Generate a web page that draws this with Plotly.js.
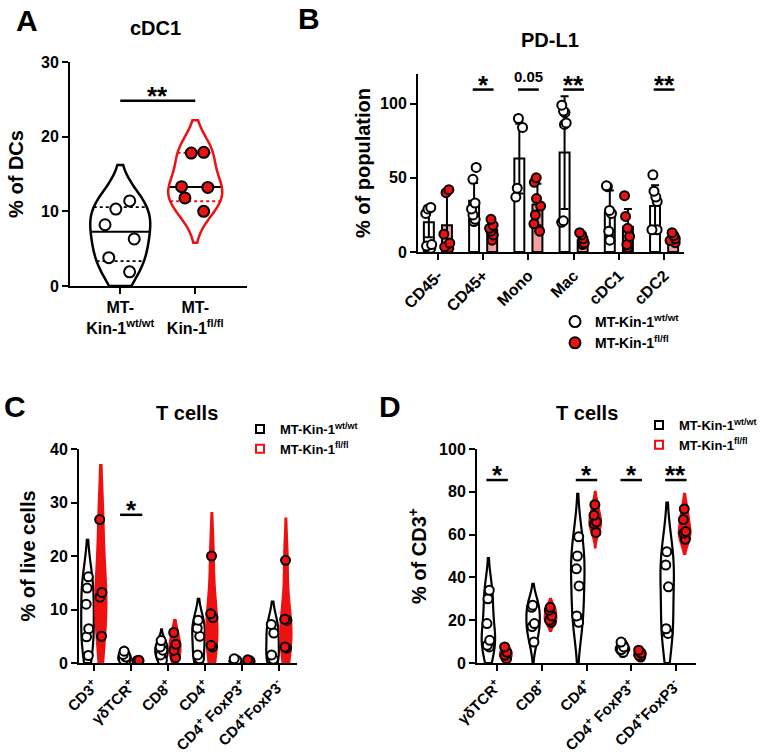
<!DOCTYPE html>
<html><head><meta charset="utf-8">
<script src="https://cdn.plot.ly/plotly-3.0.1.min.js"></script>
<style>html,body{margin:0;padding:0;background:#fff}#chart{width:765px;height:755px}</style>
</head><body><div id="chart"></div>
<script>
// ---------- Panel A : cDC1 (% of DCs) ----------
const groupsA = ['MT-<br>Kin-1<sup>wt/wt</sup>', 'MT-<br>Kin-1<sup>fl/fl</sup>'];
const aWt = [10.3, 11.4, 8.2, 6.3, 3.8, 1.9];
const aFl = [17.8, 17.9, 13.2, 13.3, 11.8, 10.0];
const aWtSpan = [0, 16.2];
const aFlSpan = [5.8, 22.2];
const sigA = '**';
const sigALevel = 24.8;

// ---------- Panel B : PD-L1 (% of population) ----------
const catsB = ['CD45-', 'CD45+', 'Mono', 'Mac', 'cDC1', 'cDC2'];
const bWtMean = [20, 34.5, 63, 67, 26.5, 31];
const bWtSD = [10, 12, 23.5, 38, 15, 14];
const bFlMean = [18, 15, 32, 8, 17, 8.5];
const bFlSD = [21, 5, 14, 3, 12, 2.5];
const bWtPts = [[30, 29, 26, 5, 4, 2.5], [57, 49, 33, 29, 25, 22, 20.5], [90, 84, 43, 37], [99, 95, 94, 87, 86, 21, 20], [44.6, 44, 28, 26, 14, 8], [52, 41, 37, 34, 15, 15]];
const bFlPts = [[42, 40, 12, 6, 3.5, 2.5], [22, 18, 16, 14, 11.5, 8], [50, 47, 36, 31, 25, 19, 14], [13, 11.5, 9, 6, 5], [38, 24, 16, 10.5, 5, 3], [13, 11, 9, 7.7, 6.3]];
const sigB = ['', '*', '0.05', '**', '', '**'];
const sigBLevel = 109.5;

// ---------- Panel C : T cells (% of live cells) ----------
const catsC = ['CD3<sup>+</sup>', 'γδTCR<sup>+</sup>', 'CD8<sup>+</sup>', 'CD4<sup>+</sup>', 'CD4<sup>+</sup> FoxP3<sup>+</sup>', 'CD4<sup>+</sup>FoxP3<sup>-</sup>'];
const cWt = [[16.1, 14, 11, 6.4, 4.9, 1.4], [2.2, 1.6, 1.1, 0.6, 0.3], [4.2, 3.0, 2.4, 1.5, 0.5], [8.0, 6.5, 5.0, 1.5, 0.8], [0.8, 0.5, 0.3, 0.2], [7.2, 5.6, 1.5, 0.7]];
const cFl = [[26.8, 13.2, 12.3, 5.0], [0.5, 0.4, 0.3], [5.7, 3.5, 2.4, 1.0], [20.0, 9.2, 8.5, 3.3, 3.0], [0.6, 0.4, 0.2, 0.1], [19.2, 8.2, 8.0, 3.0, 2.8]];
const cWtSpan = [[0, 23], [0, 3], [0, 6.3], [0, 12], [0, 1], [0, 11.5]];
const cFlSpan = [[0, 37], [0, 0.8], [0, 8], [0, 28], [0, 0.8], [0, 27]];
const sigC = ['', '*', '', '', '', ''];
const sigCLevel = 27.7;

// ---------- Panel D : T cells (% of CD3+) ----------
const catsD = ['γδTCR<sup>+</sup>', 'CD8<sup>+</sup>', 'CD4<sup>+</sup>', 'CD4<sup>+</sup> FoxP3<sup>+</sup>', 'CD4<sup>+</sup>FoxP3<sup>-</sup>'];
const dWt = [[34, 30, 18.4, 10.6, 8.3, 7.5], [27, 26, 18.4, 17, 9.8], [59, 50, 44, 36, 22, 19], [9.8, 7.5, 6.3, 5], [52, 45.8, 35.6, 16, 13.8]];
const dFl = [[7.5, 5, 3.6, 2], [26, 24.7, 22, 20, 19], [74, 69, 66, 65, 61], [6, 4.7, 3.6, 2.8], [72, 67, 61.4, 60.6, 57.8]];
const dWtSpan = [[0, 49], [0, 37], [0, 79], [3, 11], [0, 75]];
const dFlSpan = [[0, 9], [15, 30], [54, 80], [1, 7], [51, 79]];
const sigD = ['*', '', '*', '*', '**'];
const sigDLevel = 85.5;

const legendNames = ['MT-Kin-1<sup>wt/wt</sup>', 'MT-Kin-1<sup>fl/fl</sup>'];

// ---------- styling ----------
const FONT = 'Liberation Sans, Arial, sans-serif';
const RED = '#ee1111';
const W = 765, H = 755;
const px = v => v / W, py = v => 1 - v / H;

const traces = [];
const shapes = [];
const annotations = [];

function violinTrace(vals, pos, span, width, isFl, xa, ya, msize, lineCol, fillCol, jit) {
  return {
    type: 'violin', x: vals.map(() => pos), y: vals, xaxis: xa, yaxis: ya,
    spanmode: 'manual', span: span, width: width, scalemode: 'width',
    points: 'all', pointpos: 0, jitter: jit,
    line: {color: lineCol, width: 2.2}, fillcolor: fillCol,
    marker: {size: msize, color: isFl ? RED : 'white', line: {color: 'black', width: 2}},
    box: {visible: false}, meanline: {visible: false},
    showlegend: false, hoverinfo: 'skip'
  };
}

// Plotly-like KDE half width (for quartile lines in panel A)
function halfWidth(vals, span, width, yq) {
  const n = vals.length;
  const mean = vals.reduce((a, b) => a + b, 0) / n;
  const ssd = Math.sqrt(vals.reduce((a, v) => a + (v - mean) ** 2, 0) / (n - 1));
  const s = vals.slice().sort((a, b) => a - b);
  const q = p => { const h = (n - 1) * p, lo = Math.floor(h); const hi = Math.min(lo + 1, n - 1); return s[lo] + (h - lo) * (s[hi] - s[lo]); };
  const iqr = q(0.75) - q(0.25);
  const bw = 1.059 * Math.min(ssd, iqr / 1.349) * Math.pow(n, -0.2);
  const dens = y => vals.reduce((a, v) => a + Math.exp(-0.5 * ((y - v) / bw) ** 2), 0);
  let mx = 0;
  for (let i = 0; i <= 600; i++) { mx = Math.max(mx, dens(span[0] + (span[1] - span[0]) * i / 600)); }
  return width / 2 * dens(yq) / mx;
}
function gpQuantile(vals, p) {
  const s = vals.slice().sort((a, b) => a - b), n = s.length;
  const h = (n + 1) * p, lo = Math.floor(h);
  if (lo < 1) return s[0];
  if (lo >= n) return s[n - 1];
  return s[lo - 1] + (h - lo) * (s[lo] - s[lo - 1]);
}

// ---- Panel A traces
const aSets = [
  {vals: aWt, span: aWtSpan, pos: 0, width: 0.8, fl: false, col: 'black'},
  {vals: aFl, span: aFlSpan, pos: 1, width: 0.72, fl: true, col: RED}
];
aSets.forEach(st => {
  const t = violinTrace(st.vals, st.pos, st.span, st.width, st.fl, 'x', 'y', 11, st.col, 'rgba(255,255,255,0)', 0.6);
  t.line.width = 2.5;
  traces.push(t);
  [[0.25, 'dot', st.col], [0.5, 'solid', 'black'], [0.75, 'dot', st.col]].forEach(([p, dash, c]) => {
    const qv = gpQuantile(st.vals, p);
    const hw = halfWidth(st.vals, st.span, st.width, qv);
    shapes.push({type: 'line', xref: 'x', yref: 'y', x0: st.pos - hw, x1: st.pos + hw, y0: qv, y1: qv,
      line: {color: c, width: p === 0.5 ? 2 : 1.8, dash: dash}, layer: 'below'});
  });
});
shapes.push({type: 'line', xref: 'x', yref: 'y', x0: 0, x1: 1, y0: sigALevel, y1: sigALevel, line: {color: 'black', width: 2.5}});
annotations.push({xref: 'x', yref: 'y', x: 0.5, y: sigALevel, text: sigA, showarrow: false, yanchor: 'bottom', yshift: -12,
  font: {family: FONT, size: 26, weight: 'bold', color: 'black'}});

// ---- Panel B traces
const bOff = 0.2;
traces.push({type: 'bar', x: catsB.map((c, i) => i - bOff), y: bWtMean, width: 0.22, xaxis: 'x2', yaxis: 'y2',
  marker: {color: 'white', line: {color: 'black', width: 2}},
  error_y: {type: 'data', array: bWtSD, visible: true, color: 'black', thickness: 2, width: 4},
  showlegend: false, hoverinfo: 'skip'});
traces.push({type: 'bar', x: catsB.map((c, i) => i + bOff), y: bFlMean, width: 0.22, xaxis: 'x2', yaxis: 'y2',
  marker: {color: '#f5a0a0', line: {color: 'black', width: 2}},
  error_y: {type: 'data', array: bFlSD, visible: true, color: 'black', thickness: 2, width: 4},
  showlegend: false, hoverinfo: 'skip'});
[[bWtPts, -bOff, 'white'], [bFlPts, bOff, RED]].forEach(([pts, off, col]) => {
  const xs = [], ys = [];
  pts.forEach((arr, i) => arr.forEach(v => { xs.push(i + off); ys.push(v); }));
  traces.push({type: 'box', x: xs, y: ys, xaxis: 'x2', yaxis: 'y2', width: 0.2,
    boxpoints: 'all', jitter: 0.8, pointpos: 0, fillcolor: 'rgba(0,0,0,0)',
    line: {color: 'rgba(0,0,0,0)', width: 0}, whiskerwidth: 0,
    marker: {size: 9, color: col, line: {color: 'black', width: 2}},
    showlegend: false, hoverinfo: 'skip'});
});
sigB.forEach((s, i) => {
  if (!s) return;
  shapes.push({type: 'line', xref: 'x2', yref: 'y2', x0: i - 0.23, x1: i + 0.23, y0: sigBLevel, y1: sigBLevel, line: {color: 'black', width: 2.5}});
  const star = s.indexOf('*') >= 0;
  annotations.push({xref: 'x2', yref: 'y2', x: i, y: sigBLevel, text: s, showarrow: false, yanchor: 'bottom',
    yshift: star ? -12 : 3, font: {family: FONT, size: star ? 26 : 15, weight: 'bold', color: 'black'}});
});

// ---- Panel C traces
const cOff = 0.18;
catsC.forEach((c, i) => {
  traces.push(violinTrace(cWt[i], i - cOff, cWtSpan[i], 0.34, false, 'x3', 'y3', 9, 'black', 'white', 0.25));
  traces.push(violinTrace(cFl[i], i + cOff, cFlSpan[i], 0.3, true, 'x3', 'y3', 9, RED, RED, 0.25));
  if (sigC[i]) {
    shapes.push({type: 'line', xref: 'x3', yref: 'y3', x0: i - 0.3, x1: i + 0.3, y0: sigCLevel, y1: sigCLevel, line: {color: 'black', width: 2.5}});
    annotations.push({xref: 'x3', yref: 'y3', x: i, y: sigCLevel, text: sigC[i], showarrow: false, yanchor: 'bottom', yshift: -12,
      font: {family: FONT, size: 26, weight: 'bold', color: 'black'}});
  }
});

// ---- Panel D traces
const dOff = 0.195;
catsD.forEach((c, i) => {
  traces.push(violinTrace(dWt[i], i - dOff, dWtSpan[i], 0.3, false, 'x4', 'y4', 9, 'black', 'white', 0.25));
  traces.push(violinTrace(dFl[i], i + dOff, dFlSpan[i], 0.26, true, 'x4', 'y4', 9, RED, RED, 0.25));
  if (sigD[i]) {
    shapes.push({type: 'line', xref: 'x4', yref: 'y4', x0: i - 0.24, x1: i + 0.24, y0: sigDLevel, y1: sigDLevel, line: {color: 'black', width: 2.5}});
    annotations.push({xref: 'x4', yref: 'y4', x: i, y: sigDLevel, text: sigD[i], showarrow: false, yanchor: 'bottom', yshift: -12,
      font: {family: FONT, size: 26, weight: 'bold', color: 'black'}});
  }
});

// ---- legend entries
[['legend', 'x2', 'y2', 'circle', 11], ['legend2', 'x3', 'y3', 'square', 8], ['legend3', 'x4', 'y4', 'square', 8]].forEach(([lg, xa, ya, sym, sz]) => {
  legendNames.forEach((nm, k) => {
    const fl = k === 1;
    const isB = lg === 'legend';
    traces.push({type: 'scatter', mode: 'markers', x: [null], y: [null], xaxis: xa, yaxis: ya, name: nm, legend: lg,
      marker: {symbol: sym, size: sz, color: (isB && fl) ? RED : 'white', line: {color: (!isB && fl) ? RED : 'black', width: 2}},
      hoverinfo: 'skip'});
  });
});

// ---- panel letters and titles
[['A', 27, 21], ['B', 309, 18], ['C', 15, 407], ['D', 390, 406]].forEach(([t, x, y]) => {
  annotations.push({xref: 'paper', yref: 'paper', x: px(x), y: py(y), text: t, showarrow: false, xanchor: 'center', yanchor: 'middle',
    font: {family: FONT, size: 30, weight: 'bold', color: 'black'}});
});
[['cDC1', 155, 28], ['PD-L1', 550, 40], ['T cells', 187, 413], ['T cells', 587, 413]].forEach(([t, x, y]) => {
  annotations.push({xref: 'paper', yref: 'paper', x: px(x), y: py(y), text: t, showarrow: false, xanchor: 'center', yanchor: 'middle',
    font: {family: FONT, size: 20, weight: 'bold', color: 'black'}});
});

function axis(extra) {
  return Object.assign({
    showline: true, linecolor: 'black', linewidth: 2, mirror: false,
    ticks: 'outside', ticklen: 6, tickwidth: 2, tickcolor: 'black',
    showgrid: false, zeroline: false, fixedrange: true, automargin: false,
    tickfont: {family: FONT, size: 16, weight: 'bold', color: 'black'}
  }, extra);
}
const titleFont = {family: FONT, size: 20, weight: 'bold', color: 'black'};
const rotFontB = {family: FONT, size: 16, weight: 'bold', color: 'black'};
const rotFont = {family: FONT, size: 15, weight: 'bold', color: 'black'};

const layout = {
  width: W, height: H, margin: {l: 0, r: 0, t: 0, b: 0},
  paper_bgcolor: 'white', plot_bgcolor: 'rgba(0,0,0,0)',
  barmode: 'overlay', violinmode: 'overlay', boxmode: 'overlay', showlegend: true,
  font: {family: FONT, color: 'black'},
  xaxis: axis({domain: [px(70), px(247)], range: [-0.67, 1.69], anchor: 'y', tickvals: [0, 1], ticktext: groupsA, tickangle: 0}),
  yaxis: axis({domain: [py(286), py(62)], range: [0, 30], anchor: 'x', tickvals: [0, 10, 20, 30],
    title: {text: '% of DCs', font: titleFont, standoff: 12}}),
  xaxis2: axis({domain: [px(418), px(684)], range: [-0.44, 5.44], anchor: 'y2', tickvals: catsB.map((c, i) => i), ticktext: catsB,
    tickangle: -45, tickfont: rotFontB}),
  yaxis2: axis({domain: [py(252), py(74)], range: [0, 120], anchor: 'x2', tickvals: [0, 50, 100],
    title: {text: '% of population', font: titleFont, standoff: 4}}),
  xaxis3: axis({domain: [px(79), px(297)], range: [-0.41, 5.48], anchor: 'y3', tickvals: catsC.map((c, i) => i), ticktext: catsC,
    tickangle: -45, tickfont: rotFont}),
  yaxis3: axis({domain: [py(663), py(449)], range: [0, 40], anchor: 'x3', tickvals: [0, 10, 20, 30, 40],
    title: {text: '% of live cells', font: titleFont, standoff: 9}}),
  xaxis4: axis({domain: [px(477), px(696)], range: [-0.45, 4.45], anchor: 'y4', tickvals: catsD.map((c, i) => i), ticktext: catsD,
    tickangle: -45, tickfont: rotFont}),
  yaxis4: axis({domain: [py(663), py(449)], range: [0, 100], anchor: 'x4', tickvals: [0, 20, 40, 60, 80, 100],
    title: {text: '% of CD3<sup>+</sup>', font: titleFont, standoff: 7}}),
  legend: {x: px(555), y: py(306), xanchor: 'left', yanchor: 'top', bgcolor: 'rgba(0,0,0,0)', borderwidth: 0,
    font: {family: FONT, size: 14, weight: 'bold', color: 'black'}},
  legend2: {x: px(240), y: py(414), xanchor: 'left', yanchor: 'top', bgcolor: 'rgba(0,0,0,0)', borderwidth: 0,
    font: {family: FONT, size: 13, weight: 'bold', color: 'black'}},
  legend3: {x: px(639), y: py(410), xanchor: 'left', yanchor: 'top', bgcolor: 'rgba(0,0,0,0)', borderwidth: 0,
    font: {family: FONT, size: 13, weight: 'bold', color: 'black'}},
  shapes: shapes,
  annotations: annotations
};

Plotly.newPlot('chart', traces, layout, {staticPlot: true, displayModeBar: false});
</script>
</body></html>
